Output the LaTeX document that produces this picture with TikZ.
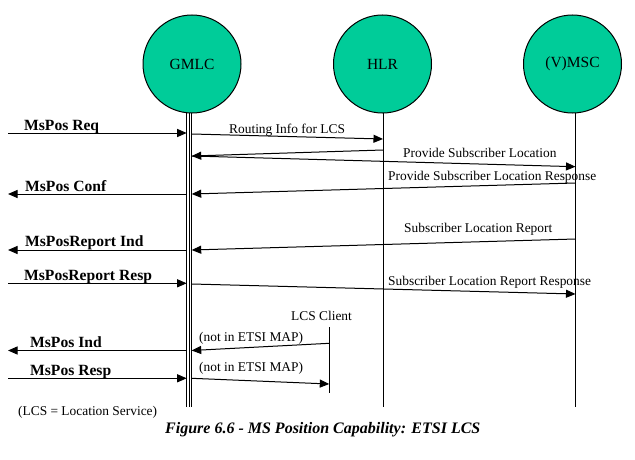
\documentclass[tikz,border=0pt]{standalone}
\usepackage{fontspec}
\setmainfont{Liberation Serif}
\usetikzlibrary{arrows.meta}
\definecolor{entgreen}{RGB}{0,204,153}
\begin{document}
\begin{tikzpicture}[x=1pt,y=-1pt,
  ent/.style={circle,draw=black,line width=1pt,fill=entgreen,minimum size=98pt,inner sep=0pt,font=\fontsize{15.5}{16}\selectfont},
  life/.style={line width=1pt},
  msg/.style={line width=1pt,-{Triangle[length=9.5pt,width=8pt]}},
  lbl/.style={font=\fontsize{13.4}{14}\selectfont,inner sep=0pt,anchor=base west},
  blbl/.style={font=\bfseries\fontsize{15.6}{16}\selectfont,inner sep=0pt,anchor=base west},
  captxt/.style={font=\bfseries\itshape\fontsize{16}{17}\selectfont,inner sep=0pt,anchor=base west}]
\useasboundingbox[fill=white] (0,0) rectangle (635,460);

% entities
\node[ent] (gmlc) at (192,64) {GMLC};
\node[ent] (hlr) at (382.5,64) {HLR};
\node[ent] (vmsc) at (572.5,64) {(V)MSC};

% lifelines
\coordinate (gA1) at (186.7,113); \coordinate (gA2) at (186.7,407);
\coordinate (gB1) at (189.2,113); \coordinate (gB2) at (189.2,407);
\coordinate (gC1) at (191.7,113); \coordinate (gC2) at (191.7,407);
\draw[life] (gA1) -- (gA2);
\draw[life] (gB1) -- (gB2);
\draw[life] (gC1) -- (gC2);
\coordinate (hTop) at (383,113); \coordinate (hBot) at (383,407);
\draw[life] (hTop) -- (hBot);
\coordinate (vTop) at (575.5,113); \coordinate (vBot) at (575.5,407);
\draw[life] (vTop) -- (vBot);
\node[lbl] (lcs) at (291,320) {LCS Client};
\coordinate (cTop) at (329.3,327); \coordinate (cBot) at (329.3,393);
\draw[life] (cTop) -- (cBot);

% message end points
\coordinate (m1a) at (8,133);      \coordinate (m1b) at (186.7,133);
\coordinate (m2a) at (191.7,134);  \coordinate (m2b) at (383,139);
\coordinate (m3a) at (383,150);    \coordinate (m3b) at (191.7,156);
\coordinate (m4a) at (191.7,156);  \coordinate (m4b) at (575.5,166.7);
\coordinate (m5a) at (575.5,183);  \coordinate (m5b) at (191.7,194);
\coordinate (m6a) at (186.7,194);  \coordinate (m6b) at (8,194);
\coordinate (m7a) at (575.5,239);  \coordinate (m7b) at (191.7,250);
\coordinate (m8a) at (186.7,250);  \coordinate (m8b) at (8,250);
\coordinate (m9a) at (8,283.3);    \coordinate (m9b) at (186.7,283.3);
\coordinate (m10a) at (191.7,284); \coordinate (m10b) at (575.5,294);
\coordinate (m11a) at (329.3,343.3); \coordinate (m11b) at (191.7,350.5);
\coordinate (m12a) at (186.7,350.5); \coordinate (m12b) at (8,350.5);
\coordinate (m13a) at (8,378.3);   \coordinate (m13b) at (186.7,378.3);
\coordinate (m14a) at (191.7,378.3); \coordinate (m14b) at (329.3,384);

\draw[msg] (m1a) -- (m1b);
\draw[msg] (m2a) -- (m2b);
\draw[msg] (m3a) -- (m3b);
\draw[msg] (m4a) -- (m4b);
\draw[msg] (m5a) -- (m5b);
\draw[msg] (m6a) -- (m6b);
\draw[msg] (m7a) -- (m7b);
\draw[msg] (m8a) -- (m8b);
\draw[msg] (m9a) -- (m9b);
\draw[msg] (m10a) -- (m10b);
\draw[msg] (m11a) -- (m11b);
\draw[msg] (m12a) -- (m12b);
\draw[msg] (m13a) -- (m13b);
\draw[msg] (m14a) -- (m14b);

% labels
\node[blbl] (l1) at (24,130.5) {MsPos Req};
\node[lbl] (l2) at (229,133) {Routing Info for LCS};
\node[lbl] (l4) at (403,157.3) {Provide Subscriber Location};
\node[lbl] (l5) at (388,180) {Provide Subscriber Location Response};
\node[blbl] (l6) at (25,191) {MsPos Conf};
\node[lbl] (l7) at (404,232) {Subscriber Location Report};
\node[blbl] (l8) at (25,246.7) {MsPosReport Ind};
\node[blbl] (l9) at (24,280) {MsPosReport Resp};
\node[lbl] (l10) at (388,285) {Subscriber Location Report Response};
\node[lbl] (l11) at (199,341.5) {(not in ETSI MAP)};
\node[blbl] (l12) at (30,347) {MsPos Ind};
\node[blbl] (l13) at (30,375) {MsPos Resp};
\node[lbl] (l14) at (199,371.5) {(not in ETSI MAP)};
\node[lbl] (note) at (18,415) {(LCS = Location Service)};
\node[captxt] (caption) at (165,433.3) {Figure 6.6 - MS Position Capability: ETSI LCS};
\end{tikzpicture}
\end{document}
